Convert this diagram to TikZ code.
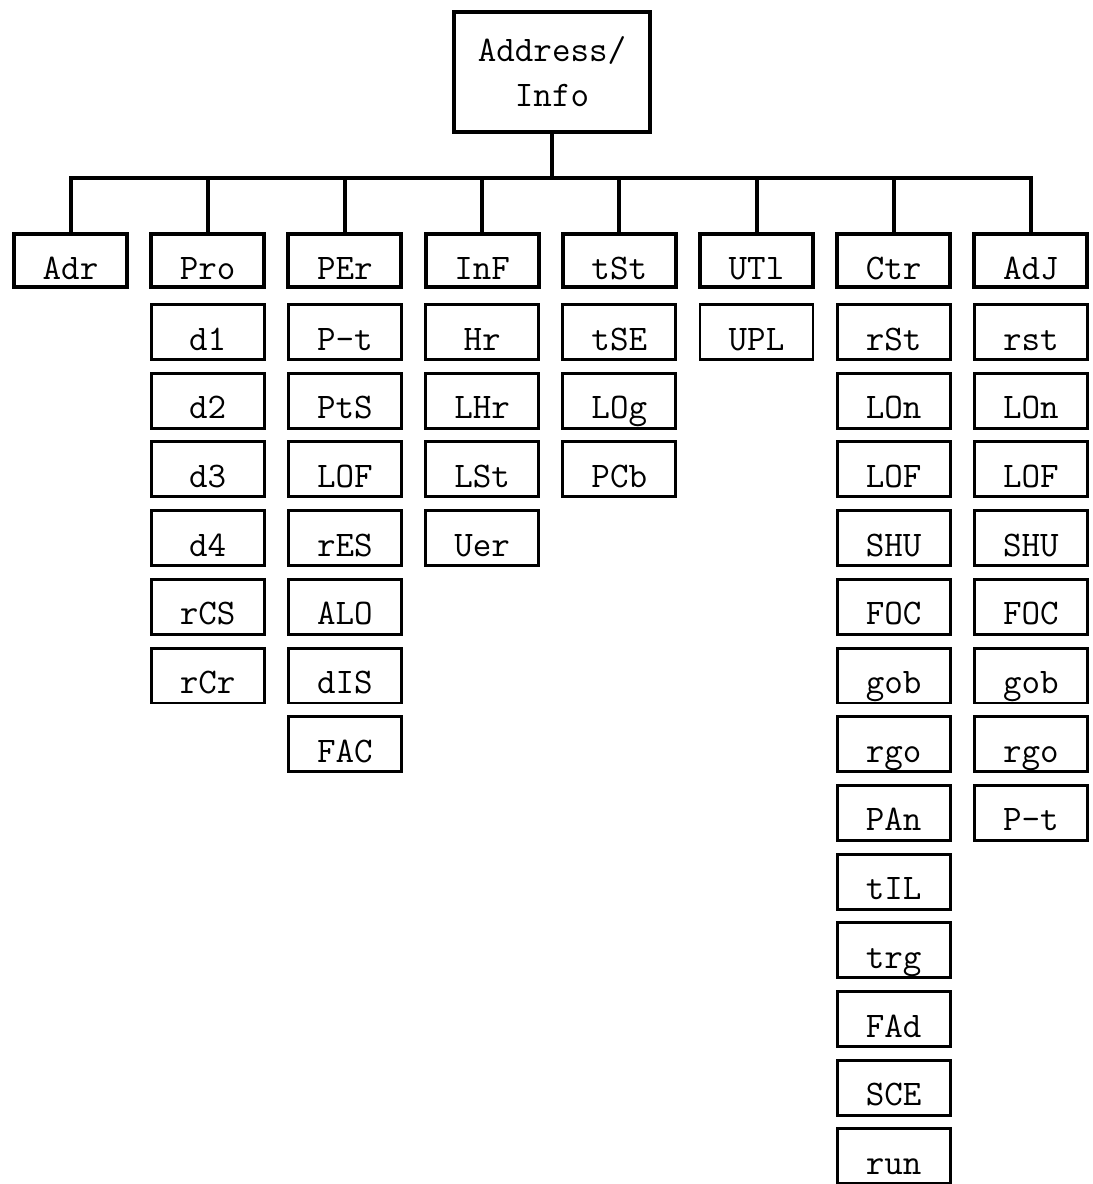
\documentclass[tikz,border=0pt]{standalone}
\usepackage{fontspec}
\usepackage{tikz}

\begin{document}
\begin{tikzpicture}[x=0.75pt, y=-0.75pt, line join=miter,
        box/.style={draw, rectangle, inner sep=0pt, minimum width=84.75pt, anchor=base,
            font=\ttfamily\fontsize{27}{33.75}\selectfont},
        hdr/.style={box, line width=3pt, text height=33.75pt, text depth=6pt},
        item/.style={box, line width=2.2pt, text height=34.1pt, text depth=7.1pt}]
        \useasboundingbox (0,0) rectangle (1092,1184);
        % raiz
        \node[draw, line width=3.2pt, minimum width=147pt, minimum height=90pt, align=center,
            font=\ttfamily\fontsize{27}{33.75}\selectfont] (root) at (552,72) {Address/\\Info};
        \coordinate (bar) at (552,178);
        \draw[line width=3pt] (root.south) -- (bar);
        % menus principales
        \foreach \t/\n [count=\i] in {Adr/adr,Pro/pro,PEr/per,InF/inf,tSt/tst,UTl/utl,Ctr/ctr,AdJ/adj} {
            \node[hdr] (\n) at ({70.5+137.2*(\i-1)},279) {\t};
            \draw[line width=3pt] (\n.north) |- (bar);
        }
        % submenus
        \foreach \t [count=\k] in {d1,d2,d3,d4,rCS,rCr}
            \node[item] (pro\k) at (207.7,{350+68.7*(\k-1)}) {\t};
        \foreach \t [count=\k] in {P-t,PtS,LOF,rES,ALO,dIS,FAC}
            \node[item] (per\k) at (344.9,{350+68.7*(\k-1)}) {\t};
        \foreach \t [count=\k] in {Hr,LHr,LSt,Uer}
            \node[item] (inf\k) at (482.1,{350+68.7*(\k-1)}) {\t};
        \foreach \t [count=\k] in {tSE,LOg,PCb}
            \node[item] (tst\k) at (619.3,{350+68.7*(\k-1)}) {\t};
        \node[item] (utl1) at (756.5,350) {UPL};
        \foreach \t [count=\k] in {rSt,LOn,LOF,SHU,FOC,gob,rgo,PAn,tIL,trg,FAd,SCE,run}
            \node[item] (ctr\k) at (893.7,{350+68.7*(\k-1)}) {\t};
        \foreach \t [count=\k] in {rst,LOn,LOF,SHU,FOC,gob,rgo,P-t}
            \node[item] (adj\k) at (1030.9,{350+68.7*(\k-1)}) {\t};
    \end{tikzpicture}
\end{document}
